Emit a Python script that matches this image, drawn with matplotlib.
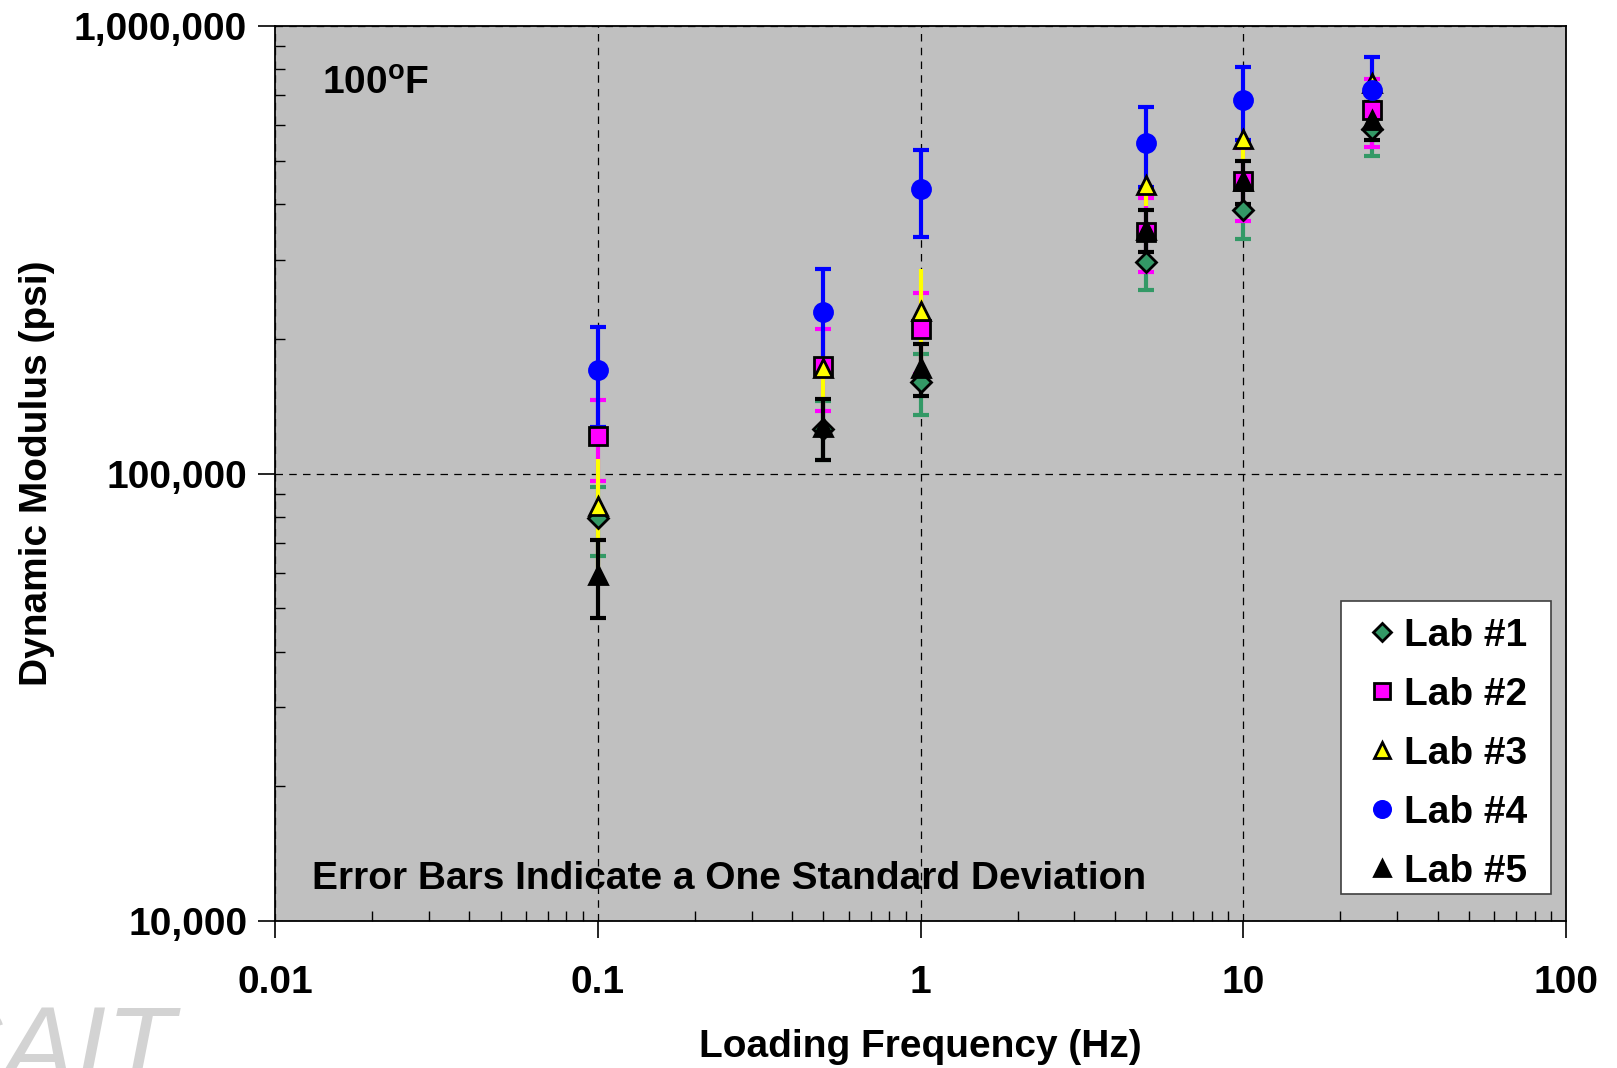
import numpy as np
import matplotlib
matplotlib.use("Agg")
import matplotlib.pyplot as plt
from matplotlib.lines import Line2D
from matplotlib.patches import Rectangle
from matplotlib.ticker import FixedLocator, LogLocator, NullFormatter

plt.rcParams['font.family'] = ['Liberation Sans', 'DejaVu Sans']
plt.rcParams['font.weight'] = 'bold'
plt.rcParams['mathtext.fontset'] = 'custom'
plt.rcParams['mathtext.rm'] = 'Liberation Sans:bold'
plt.rcParams['mathtext.bf'] = 'Liberation Sans:bold'

# loading frequencies (Hz)
freq = [0.1, 0.5, 1, 5, 10, 25]

# dynamic modulus means (psi) and one standard deviation, per lab
lab1 = [79500, 126000, 160000, 297000, 387000, 588000]
lab1_sd = [14000, 19000, 25000, 40000, 53000, 75000]
lab2 = [121000, 174000, 210000, 347000, 450000, 649000]
lab2_sd = [25000, 36000, 43000, 65000, 84000, 112000]
lab3 = [84500, 172000, 231000, 441000, 558000, 745000]
lab3_sd = [23000, 30000, 55000, 45000, 62000, 40000]
lab4 = [170000, 229000, 433000, 548000, 683000, 719000]
lab4_sd = [43000, 57000, 95000, 111000, 128000, 134000]
lab5 = [59300, 127000, 172000, 350000, 450000, 617000]
lab5_sd = [11700, 20000, 23000, 37000, 50000, 60000]

labels = ['Lab #1', 'Lab #2', 'Lab #3', 'Lab #4', 'Lab #5']
means = [lab1, lab2, lab3, lab4, lab5]
sds = [lab1_sd, lab2_sd, lab3_sd, lab4_sd, lab5_sd]
colors = ['#339966', '#FF00FF', '#FFFF00', '#0000FF', '#000000']
markers = ['D', 's', '^', 'o', '^']
msizes = [10, 13, 13, 13, 13]
edges = ['black', 'black', 'black', '#0000FF', 'black']
caps = [6, 6, 0, 6, 6]  # Lab #3 bars have no end caps

W, H = 1617, 1068
fig = plt.figure(figsize=(W / 100, H / 100), dpi=100)
ax = fig.add_axes([275 / W, 1 - 921 / H, 1291 / W, 895 / H])
ax.set_facecolor('#C0C0C0')

for i in range(5):
    ax.errorbar(freq, means[i], yerr=sds[i], fmt='none', ecolor=colors[i],
                elinewidth=3, capsize=caps[i], capthick=3, zorder=2 + i * 0.1)

for i in range(5):
    ax.plot(freq, means[i], linestyle='none', marker=markers[i], ms=msizes[i],
            mfc=colors[i], mec=edges[i], mew=2, zorder=4 + i * 0.1)

ax.set_xscale('log')
ax.set_yscale('log')
ax.set_xlim(0.01, 100)
ax.set_ylim(10000, 1000000)

ax.xaxis.set_major_locator(FixedLocator([0.01, 0.1, 1, 10, 100]))
ax.set_xticklabels(['0.01', '0.1', '1', '10', '100'])
ax.yaxis.set_major_locator(FixedLocator([10000, 100000, 1000000]))
ax.set_yticklabels(['10,000', '100,000', '1,000,000'])
ax.xaxis.set_minor_locator(LogLocator(base=10, subs=np.arange(2, 10)))
ax.yaxis.set_minor_locator(LogLocator(base=10, subs=np.arange(2, 10)))
ax.xaxis.set_minor_formatter(NullFormatter())
ax.yaxis.set_minor_formatter(NullFormatter())

ax.tick_params(which='major', direction='out', length=12, width=1.2, labelsize=28)
ax.tick_params(axis='x', which='major', pad=20)
ax.tick_params(axis='y', which='major', pad=8)
ax.tick_params(which='minor', direction='in', length=7, width=1.0)
for lab in ax.get_xticklabels() + ax.get_yticklabels():
    lab.set_fontweight('bold')

ax.grid(which='major', color='black', linestyle=(0, (6, 5)), linewidth=0.9)
for s in ax.spines.values():
    s.set_linewidth(1.3)

ax.set_xlabel('Loading Frequency (Hz)', fontsize=28, fontweight='bold', labelpad=20)
ax.set_ylabel('Dynamic Modulus (psi)', fontsize=28, fontweight='bold', labelpad=14)

# annotations placed by pixel (from the top-left corner)
fig.text(322 / W, 1 - 84 / H, r'100$^{\mathrm{o}}$F', fontsize=28,
         fontweight='bold', va='center', ha='left')
fig.text(312 / W, 1 - 879 / H, 'Error Bars Indicate a One Standard Deviation',
         fontsize=28, fontweight='bold', va='center', ha='left')

# legend: frame drawn by hand, entries placed inside it
frame = Rectangle((1341 / W, 1 - 894 / H), 210 / W, 293 / H, transform=fig.transFigure,
                  facecolor='white', edgecolor='#404040', linewidth=1.2,
                  zorder=10, clip_on=False)
ax.add_patch(frame)
handles = [Line2D([], [], linestyle='none', marker=markers[i], ms=msizes[i] * 0.9,
                  mfc=colors[i], mec=edges[i], mew=2) for i in range(5)]
leg = ax.legend(handles, labels, loc='upper left',
                bbox_to_anchor=(1366 / W, 1 - 618 / H), bbox_transform=fig.transFigure,
                prop={'size': 28, 'weight': 'bold'}, frameon=False, borderpad=0,
                labelspacing=0.59, handlelength=0.8, handletextpad=0.18,
                borderaxespad=0)
leg.set_zorder(11)

# faint watermark, cut off at the left and bottom edges
fig.text(175 / W, -16 / H, 'CAIT', fontsize=80, color='#D3D3D3', style='italic',
         fontweight='normal', ha='right', va='baseline')

fig.savefig('out.png', dpi=100)
